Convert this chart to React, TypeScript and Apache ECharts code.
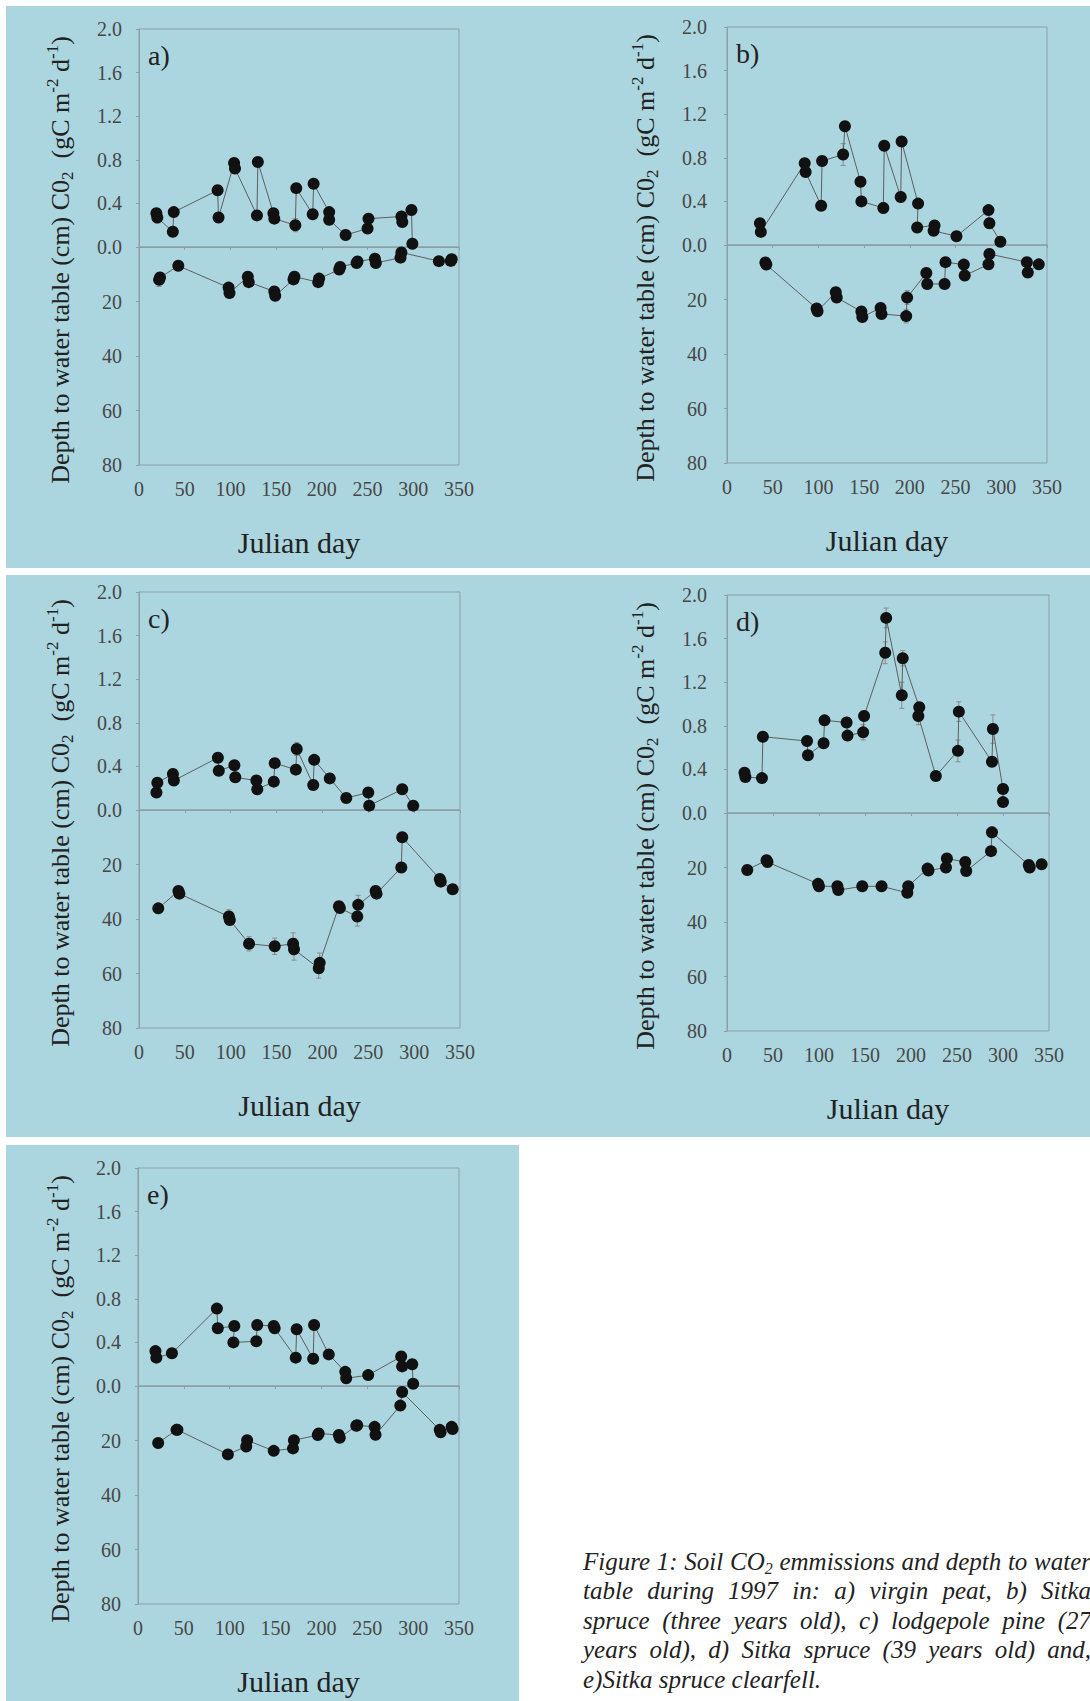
import React, { useEffect, useRef } from "react";
import * as echarts from "echarts";

const FONT = "Liberation Serif, Times New Roman, serif";
const BG = "#acd6df";
const FRAME = "#8d9fa4";
const LINE = "#5e5e5e";
const DOT = "#111111";
const ERR = "#8a8a8a";
const TEXT = "#222222";
const TICKTEXT = "#474747";

// axis settings
const dayMin = 0;
const dayMax = 350;
const dayStep = 50;
const co2Max = 2.0;
const co2Step = 0.4;
const depthMax = 80;
const depthStep = 20;

const panelLetters = ["a)", "b)", "c)", "d)", "e)"];
const xAxisTitle = "Julian day";
const yAxisTitleRich =
  "{n|Depth to water table (cm) C0}{sub|2}{n|  (gC m}{sup|-2}{n| d}{sup|-1}{n|)}";

// ---- a) virgin peat ----
const aCo2 = [
  [19, 0.31], [20, 0.27], [37, 0.14], [38, 0.32], [86, 0.52], [87, 0.27],
  [104, 0.77], [105, 0.72], [129, 0.29], [130, 0.78], [147, 0.31], [148, 0.26],
  [171, 0.2], [172, 0.54], [190, 0.3], [191, 0.58], [208, 0.32], [208, 0.25],
  [226, 0.11], [250, 0.17], [251, 0.26], [287, 0.28], [288, 0.23], [298, 0.34], [299, 0.03],
];
const aDepth = [
  [22, 12.0], [23, 11.2], [43, 6.9], [98, 14.9], [99, 16.9], [119, 10.9], [120, 12.9],
  [148, 16.3], [149, 17.9], [169, 11.9], [170, 10.9], [196, 12.9], [197, 11.6],
  [219, 8.3], [220, 7.3], [238, 5.9], [239, 5.3], [258, 4.3], [259, 5.9],
  [286, 3.9], [287, 2.0], [328, 5.2], [341, 5.1], [342, 4.5],
];
const aCo2Err = [[20, 0.27, 0.05], [171, 0.2, 0.06]];
const aDepthErr = [[22, 12.0, 2.5]];

// ---- b) Sitka spruce (3 yrs) ----
const bCo2 = [
  [36, 0.2], [37, 0.12], [85, 0.75], [86, 0.67], [103, 0.36], [104, 0.77],
  [127, 0.83], [129, 1.09], [146, 0.58], [147, 0.4], [171, 0.34], [172, 0.91],
  [190, 0.44], [191, 0.95], [209, 0.38], [208, 0.16], [227, 0.18], [226, 0.13],
  [251, 0.08], [286, 0.32], [287, 0.2], [299, 0.03],
];
const bDepth = [
  [42, 6.4], [43, 7.2], [98, 23.3], [99, 24.3], [119, 17.3], [120, 19.3],
  [147, 24.4], [148, 26.4], [168, 23.1], [169, 25.3], [196, 26.1], [197, 19.3],
  [218, 10.3], [219, 14.3], [238, 14.3], [239, 6.3], [259, 7.2], [260, 11.2],
  [286, 7.1], [287, 3.3], [328, 6.3], [329, 10.1], [341, 7.1],
];
const bCo2Err = [[127, 0.83, 0.1], [171, 0.34, 0.05]];
const bDepthErr = [[196, 26.1, 2.5], [197, 19.3, 2.5]];

// ---- c) lodgepole pine (27 yrs) ----
const cCo2 = [
  [19, 0.16], [20, 0.25], [37, 0.33], [38, 0.27], [86, 0.48], [87, 0.36],
  [104, 0.41], [105, 0.3], [128, 0.27], [129, 0.19], [147, 0.26], [148, 0.43],
  [171, 0.37], [172, 0.56], [190, 0.23], [191, 0.46], [208, 0.29], [226, 0.11],
  [250, 0.16], [251, 0.04], [287, 0.19], [299, 0.04],
];
const cDepth = [
  [21, 36.1], [43, 29.7], [44, 30.7], [98, 39.1], [99, 40.4], [120, 49.1],
  [148, 50.0], [168, 49.1], [169, 51.1], [196, 58.1], [197, 56.1], [218, 35.3],
  [219, 36.0], [238, 39.1], [239, 34.8], [258, 29.7], [259, 30.7], [286, 21.1],
  [287, 10.0], [328, 25.3], [329, 26.3], [342, 29.1],
];
const cCo2Err = [[172, 0.56, 0.06]];
const cDepthErr = [
  [98, 39.1, 2.5], [120, 49.1, 2.6], [148, 50.0, 3.0], [168, 49.1, 4.0],
  [169, 51.1, 4.0], [196, 58.1, 3.6], [197, 56.1, 3.6], [238, 39.1, 3.5], [239, 34.8, 3.5],
];

// ---- d) Sitka spruce (39 yrs) ----
const dCo2 = [
  [19, 0.37], [20, 0.33], [38, 0.32], [39, 0.7], [87, 0.66], [88, 0.53],
  [105, 0.64], [106, 0.85], [130, 0.83], [131, 0.71], [148, 0.74], [149, 0.89],
  [172, 1.47], [173, 1.79], [190, 1.08], [191, 1.42], [209, 0.97], [208, 0.89],
  [227, 0.34], [251, 0.57], [252, 0.93], [288, 0.47], [289, 0.77], [300, 0.22], [300, 0.1],
];
const dDepth = [
  [22, 20.9], [43, 17.3], [44, 18.0], [99, 26.0], [100, 26.9], [120, 26.9],
  [121, 28.3], [147, 26.9], [168, 26.9], [196, 29.3], [197, 26.9], [218, 20.4],
  [219, 21.1], [238, 20.0], [239, 16.7], [259, 18.0], [260, 21.3], [287, 14.0],
  [288, 7.1], [328, 19.1], [329, 20.0], [342, 18.8],
];
const dCo2Err = [
  [173, 1.79, 0.09], [172, 1.47, 0.1], [190, 1.08, 0.12], [191, 1.42, 0.07],
  [208, 0.89, 0.08], [252, 0.93, 0.09], [251, 0.57, 0.1], [289, 0.77, 0.13], [148, 0.74, 0.07],
];
const dDepthErr = [[288, 7.1, 2.0]];

// ---- e) Sitka spruce clearfell ----
const eCo2 = [
  [19, 0.32], [20, 0.26], [37, 0.3], [86, 0.71], [87, 0.53], [105, 0.55],
  [104, 0.4], [129, 0.41], [130, 0.56], [148, 0.55], [149, 0.53], [172, 0.26],
  [173, 0.52], [191, 0.25], [192, 0.56], [208, 0.29], [226, 0.13], [227, 0.07],
  [251, 0.1], [287, 0.27], [288, 0.18], [299, 0.2], [300, 0.02],
];
const eDepth = [
  [22, 20.9], [42, 16.1], [43, 16.1], [98, 25.1], [118, 22.2], [119, 19.9],
  [148, 23.8], [169, 22.9], [170, 19.9], [196, 18.0], [197, 17.4], [219, 18.0],
  [220, 19.0], [238, 14.6], [239, 14.4], [258, 15.0], [259, 17.9], [286, 7.2],
  [288, 2.2], [329, 16.1], [330, 17.0], [342, 15.0], [343, 15.8],
];
const eCo2Err = [[287, 0.27, 0.04]];
const eDepthErr = [];

const captionLines = [
  "Figure 1: Soil CO_2 emmissions and depth to water",
  "table during 1997 in: a) virgin peat, b) Sitka",
  "spruce (three years old), c) lodgepole pine (27",
  "years old), d) Sitka spruce (39 years old) and,",
  "e)Sitka spruce clearfell.",
];

const panelData = [
  { co2: aCo2, depth: aDepth, co2Err: aCo2Err, depthErr: aDepthErr },
  { co2: bCo2, depth: bDepth, co2Err: bCo2Err, depthErr: bDepthErr },
  { co2: cCo2, depth: cDepth, co2Err: cCo2Err, depthErr: cDepthErr },
  { co2: dCo2, depth: dDepth, co2Err: dCo2Err, depthErr: dDepthErr },
  { co2: eCo2, depth: eDepth, co2Err: eCo2Err, depthErr: eDepthErr },
];

// layout (pixels)
const panelBoxes = [
  { left: 139, top: 29, width: 320, height: 436, labelMargin: 17, nameX: 60 },
  { left: 727, top: 27, width: 320, height: 436, labelMargin: 20, nameX: 645 },
  { left: 139, top: 592, width: 321, height: 436, labelMargin: 17, nameX: 60 },
  { left: 727, top: 595, width: 322, height: 436, labelMargin: 20, nameX: 645 },
  { left: 138, top: 1168, width: 321, height: 436, labelMargin: 17, nameX: 60 },
];
const bgRects = [
  { x: 6, y: 6, w: 1084, h: 562 },
  { x: 6, y: 575, w: 1084, h: 562 },
  { x: 6, y: 1145, w: 513, h: 556 },
];

function errRender(params: any, api: any) {
  const x = api.value(0);
  const y = api.value(1);
  const e = api.value(2);
  const p1 = api.coord([x, y - e]);
  const p2 = api.coord([x, y + e]);
  const st = { stroke: ERR, lineWidth: 1 };
  return {
    type: "group",
    children: [
      { type: "line", shape: { x1: p1[0], y1: p1[1], x2: p2[0], y2: p2[1] }, style: st },
      { type: "line", shape: { x1: p1[0] - 2.5, y1: p1[1], x2: p1[0] + 2.5, y2: p1[1] }, style: st },
      { type: "line", shape: { x1: p2[0] - 2.5, y1: p2[1], x2: p2[0] + 2.5, y2: p2[1] }, style: st },
    ],
  };
}

function buildOption() {
  const grid: any[] = [];
  const xAxis: any[] = [];
  const yAxis: any[] = [];
  const series: any[] = [];
  const elements: any[] = [];

  bgRects.forEach((r) => {
    elements.push({
      type: "rect",
      z: -10,
      shape: { x: r.x, y: r.y, width: r.w, height: r.h },
      style: { fill: BG },
      silent: true,
    });
  });

  panelBoxes.forEach((b, i) => {
    const half = b.height / 2;
    const gUp = i * 2;
    const gLo = i * 2 + 1;
    grid.push({
      left: b.left, top: b.top, width: b.width, height: half,
      show: true, borderColor: FRAME, borderWidth: 1, backgroundColor: "transparent",
    });
    grid.push({
      left: b.left, top: b.top + half, width: b.width, height: half,
      show: true, borderColor: FRAME, borderWidth: 1, backgroundColor: "transparent",
    });
    xAxis.push({
      type: "value", gridIndex: gUp, min: dayMin, max: dayMax, interval: dayStep, show: false,
    });
    xAxis.push({
      type: "value", gridIndex: gLo, min: dayMin, max: dayMax, interval: dayStep,
      axisLine: { show: true, lineStyle: { color: FRAME } },
      axisTick: { show: true, length: 3, lineStyle: { color: FRAME } },
      splitLine: { show: false },
      axisLabel: { fontFamily: FONT, fontSize: 20, color: TICKTEXT, margin: 14 },
      name: xAxisTitle, nameLocation: "middle", nameGap: 77,
      nameTextStyle: { fontFamily: FONT, fontSize: 30, color: TEXT, verticalAlign: "middle" },
    });
    yAxis.push({
      type: "value", gridIndex: gUp, min: 0, max: co2Max, interval: co2Step,
      axisLine: { show: true, lineStyle: { color: FRAME } },
      axisTick: { show: true, length: 3, lineStyle: { color: FRAME } },
      splitLine: { show: false },
      axisLabel: {
        fontFamily: FONT, fontSize: 20, color: TICKTEXT, margin: b.labelMargin,
        formatter: (v: number) => v.toFixed(1),
      },
    });
    yAxis.push({
      type: "value", gridIndex: gLo, min: 0, max: depthMax, interval: depthStep, inverse: true,
      axisLine: { show: true, lineStyle: { color: FRAME } },
      axisTick: { show: true, length: 3, lineStyle: { color: FRAME } },
      splitLine: { show: false },
      axisLabel: {
        fontFamily: FONT, fontSize: 20, color: TICKTEXT, margin: b.labelMargin,
        formatter: (v: number) => (v === 0 ? "" : String(Math.round(v))),
      },
    });

    const d = panelData[i];
    const lineCommon = {
      type: "line",
      symbol: "circle",
      symbolSize: 12,
      clip: false,
      lineStyle: { color: LINE, width: 1 },
      itemStyle: { color: DOT },
      z: 3,
    };
    series.push({ ...lineCommon, xAxisIndex: gUp, yAxisIndex: gUp, data: d.co2 });
    series.push({ ...lineCommon, xAxisIndex: gLo, yAxisIndex: gLo, data: d.depth });
    series.push({
      type: "custom", xAxisIndex: gUp, yAxisIndex: gUp, data: d.co2Err,
      renderItem: errRender, encode: { x: 0, y: 1 }, z: 2, clip: false,
    });
    series.push({
      type: "custom", xAxisIndex: gLo, yAxisIndex: gLo, data: d.depthErr,
      renderItem: errRender, encode: { x: 0, y: 1 }, z: 2, clip: false,
    });

    // panel letter
    elements.push({
      type: "text",
      x: b.left + 9,
      y: b.top + 26,
      style: {
        text: panelLetters[i], fontFamily: FONT, fontSize: 28, fill: TEXT,
        align: "left", verticalAlign: "middle", textAlign: "left", textVerticalAlign: "middle",
      },
    });
    // y axis title (rotated)
    const rich = {
      n: { fontFamily: FONT, fontSize: 26, fill: TEXT, color: TEXT, lineHeight: 32, verticalAlign: "middle" },
      sub: { fontFamily: FONT, fontSize: 17, fill: TEXT, color: TEXT, lineHeight: 17, verticalAlign: "bottom" },
      sup: { fontFamily: FONT, fontSize: 17, fill: TEXT, color: TEXT, lineHeight: 17, verticalAlign: "top" },
    };
    elements.push({
      type: "text",
      x: b.nameX,
      y: b.top + b.height / 2 + 13,
      rotation: Math.PI / 2,
      style: {
        text: yAxisTitleRich, rich, fill: TEXT, fontFamily: FONT, fontSize: 26,
        align: "center", verticalAlign: "middle", textAlign: "center", textVerticalAlign: "middle",
      },
    });
  });

  // caption, justified word by word
  const canvas = document.createElement("canvas");
  const ctx = canvas.getContext("2d") as CanvasRenderingContext2D;
  const capSize = 25;
  const subSize = 16;
  const meas = (t: string, s: number) => {
    ctx.font = `italic ${s}px Liberation Serif`;
    return ctx.measureText(t).width;
  };
  const capL = 583;
  const capR = 1091;
  const capY0 = 1561;
  const capPitch = 29.6;
  const capRich = {
    m: { fontFamily: FONT, fontStyle: "italic", fontSize: capSize, fill: TEXT, color: TEXT, lineHeight: 30, verticalAlign: "middle" },
    s: { fontFamily: FONT, fontStyle: "italic", fontSize: subSize, fill: TEXT, color: TEXT, lineHeight: 16, verticalAlign: "bottom" },
  };
  captionLines.forEach((line, li) => {
    const words = line.split(" ");
    const items = words.map((w) => {
      if (w.includes("_")) {
        const [a, s] = w.split("_");
        return { text: `{m|${a}}{s|${s}}`, rich: true, width: meas(a, capSize) + meas(s, subSize) };
      }
      return { text: w, rich: false, width: meas(w, capSize) };
    });
    const total = items.reduce((acc, it) => acc + it.width, 0);
    const last = li === captionLines.length - 1;
    const gap = last || items.length < 2 ? meas(" ", capSize) : (capR - capL - total) / (items.length - 1);
    let x = capL;
    const y = capY0 + li * capPitch;
    items.forEach((it) => {
      const style: any = it.rich
        ? { text: it.text, rich: capRich }
        : { text: it.text, fontFamily: FONT, fontStyle: "italic", fontSize: capSize, fill: TEXT };
      style.align = "left";
      style.textAlign = "left";
      style.verticalAlign = "middle";
      style.textVerticalAlign = "middle";
      elements.push({ type: "text", x, y, style });
      x += it.width + gap;
    });
  });

  return {
    animation: false,
    backgroundColor: "#ffffff",
    grid,
    xAxis,
    yAxis,
    series,
    graphic: { elements },
  };
}

export default function App() {
  const ref = useRef<HTMLDivElement>(null);
  useEffect(() => {
    document.body.style.margin = "0";
    document.body.style.overflow = "hidden";
    if (!ref.current) return;
    const chart = echarts.init(ref.current, undefined, { renderer: "svg" });
    chart.setOption(buildOption() as any);
    return () => {
      chart.dispose();
    };
  }, []);
  return <div ref={ref} style={{ width: 1090, height: 1701 }} />;
}
